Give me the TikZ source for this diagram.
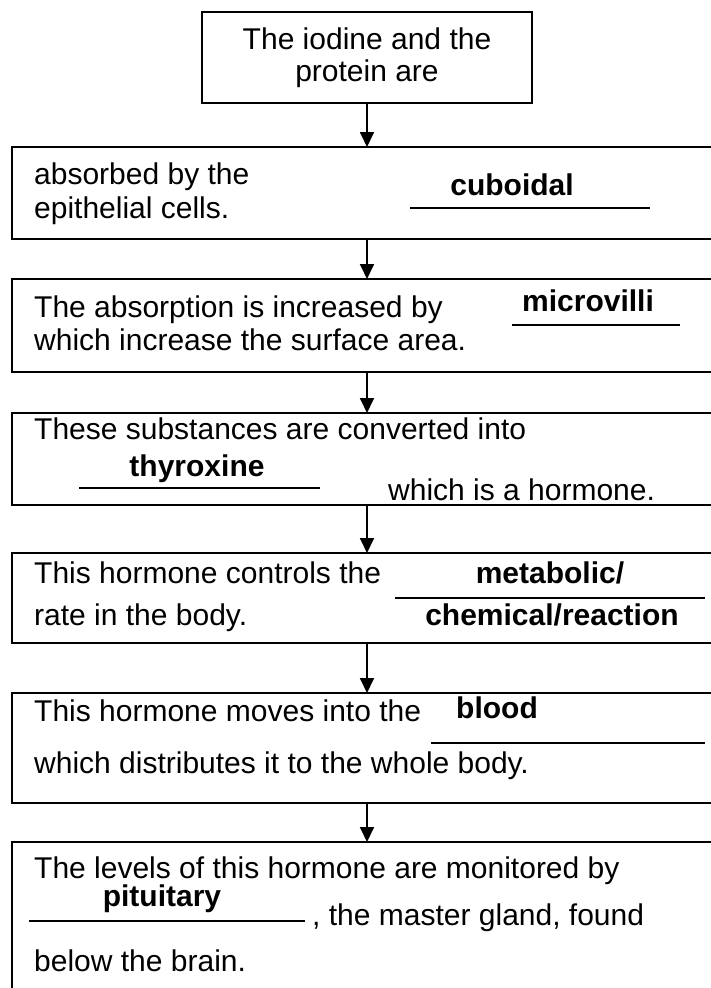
\documentclass[tikz,border=0pt]{standalone}
\usepackage{fontspec}
\setmainfont{Liberation Sans}
\usepackage{tikz}
\usetikzlibrary{arrows.meta,positioning}
\tikzset{
  blk/.style={draw, line width=1.8pt, inner sep=0pt, outer sep=0pt},
  firstbox/.style={blk, align=center, minimum width=330pt, minimum height=91pt, font=\fontsize{30}{32}\selectfont},
  stepbox/.style={blk, anchor=north west, minimum width=710pt, minimum height=#1},
  txt/.style={anchor=west, inner sep=0pt, text height=22pt, text depth=6pt, font=\fontsize{30}{34}\selectfont},
  ans/.style={inner sep=0pt, text height=22pt, text depth=6pt, font=\fontsize{30}{34}\selectfont\bfseries},
  fillline/.style={line width=1.8pt},
  arr/.style={-{Triangle[length=15pt,width=14pt]}, line width=1.8pt},
}
\begin{document}
\begin{tikzpicture}[x=1pt,y=-1pt]
\useasboundingbox (0,0) rectangle (711,988);
% boxes
\node[firstbox] (b1) at (367,57.5) {The iodine and the\\protein are};
\node[stepbox=92pt] (b2) at (12,147) {};
\node[stepbox=93pt] (b3) at (12,279) {};
\node[stepbox=92pt] (b4) at (12,413) {};
\node[stepbox=90pt] (b5) at (12,553) {};
\node[stepbox=110pt] (b6) at (12,693) {};
\node[stepbox=160pt] (b7) at (12,842) {};
\foreach \a/\b in {b1/b2,b2/b3,b3/b4,b4/b5,b5/b6,b6/b7} {\draw[arr] (\a.south)--(\b.north);}
% absorption
\node[txt] (t2a) at (34,176) {absorbed by the};
\node[txt] (t2b) at (34,210) {epithelial cells.};
\node[ans] (a2) at (512,187) {cuboidal};
\draw[fillline] (410,208)--(650,208);
% microvilli
\node[txt] (t3a) at (34,309) {The absorption is increased by};
\node[txt] (t3b) at (34,342) {which increase the surface area.};
\node[ans] (a3) at (588,303) {microvilli};
\draw[fillline] (512,325)--(680,325);
% hormone
\node[txt] (t4a) at (34,431) {These substances are converted into};
\node[ans] (a4) at (197,468) {thyroxine};
\draw[fillline] (79,488)--(320,488);
\node[txt] (t4b) at (388,492) {which is a hormone.};
% rate
\node[txt] (t5a) at (34,575) {This hormone controls the};
\node[txt] (t5b) at (34,617) {rate in the body.};
\node[ans] (a5a) at (550,575) {metabolic/};
\draw[fillline] (395,598)--(705,598);
\node[ans] (a5b) at (552,617) {chemical/reaction};
% transport
\node[txt] (t6a) at (34,713) {This hormone moves into the};
\node[ans] (a6) at (497,710) {blood};
\draw[fillline] (431,743)--(705,743);
\node[txt] (t6b) at (34,765) {which distributes it to the whole body.};
% control
\node[txt] (t7a) at (34,870) {The levels of this hormone are monitored by};
\node[ans] (a7) at (162,898) {pituitary};
\draw[fillline] (29,921)--(305,921);
\node[txt] (t7b) at (312,917) {, the master gland, found};
\node[txt] (t7c) at (34,963) {below the brain.};
\end{tikzpicture}
\end{document}
